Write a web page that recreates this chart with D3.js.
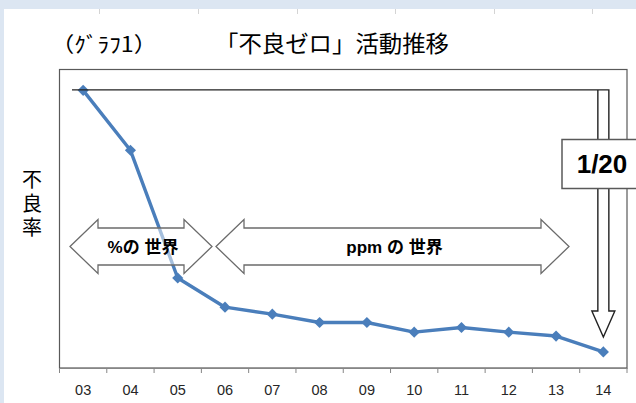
<!DOCTYPE html>
<html>
<head>
<meta charset="utf-8">
<script src="https://cdn.jsdelivr.net/npm/d3@7/dist/d3.min.js"></script>
<style>
  html, body { margin: 0; padding: 0; background: #dce6f2; }
  svg { display: block; }
</style>
</head>
<body>
<div id="chart"></div>
<script>
'use strict';
// chart data (index, 03 = 100)
var years   = ['03','04','05','06','07','08','09','10','11','12','13','14'];
var rates   = [100, 78.4, 32.4, 21.9, 19.4, 16.4, 16.4, 12.9, 14.6, 12.9, 11.5, 5.8];
var yMax    = 107.5;
var titleLeft  = '（ｸﾞﾗﾌ1）';
var titleMain  = '「不良ゼロ」活動推移';
var yLabel     = '不良率';
var arrowTexts = ['%の 世界', 'ppm の 世界'];
var ratioText  = '1/20';

var W = 636, H = 403,
    plot = { left: 59.5, right: 627, top: 69.5, bottom: 368 },
    jp = '"Noto Sans CJK JP", sans-serif',
    lat = '"Liberation Sans", "Noto Sans CJK JP", sans-serif',
    blue = '#4a7ebb';

var svg = d3.select('#chart').append('svg')
    .attr('width', W)
    .attr('height', H);

// sheet background
svg.append('rect').attr('x', 4).attr('y', 9)
    .attr('width', W - 4).attr('height', H - 9).attr('fill', '#fff');
[99, 198, 297, 395, 494, 592].forEach(function (gx) {
    svg.append('line').attr('x1', gx + 0.5).attr('x2', gx + 0.5)
        .attr('y1', 9).attr('y2', 14).attr('stroke', '#d4d4d4');
});

// titles
svg.append('text').attr('x', 51).attr('y', 52)
    .attr('font-family', jp).attr('font-size', 21).attr('fill', '#000')
    .attr('textLength', 106).attr('lengthAdjust', 'spacingAndGlyphs')
    .text(titleLeft);
svg.append('text').attr('x', 215).attr('y', 52)
    .attr('font-family', jp).attr('font-size', 23).attr('fill', '#000')
    .attr('textLength', 234).attr('lengthAdjust', 'spacingAndGlyphs')
    .text(titleMain);

// y label, vertical
svg.append('text')
    .attr('x', 32).attr('y', 169)
    .style('writing-mode', 'vertical-rl')
    .attr('letter-spacing', 4)
    .attr('font-family', jp).attr('font-size', 20).attr('fill', '#000')
    .text(yLabel);

var x = d3.scaleBand().domain(years).range([plot.left, plot.right]).padding(0),
    y = d3.scaleLinear().domain([0, yMax]).range([plot.bottom, plot.top]);

// plot frame
svg.append('rect')
    .attr('x', plot.left).attr('y', plot.top)
    .attr('width', plot.right - plot.left).attr('height', plot.bottom - plot.top)
    .attr('fill', 'none').attr('stroke', '#595959').attr('stroke-width', 1.2);

// x axis
var xAxis = svg.append('g')
    .attr('transform', 'translate(0,' + plot.bottom + ')')
    .call(d3.axisBottom(x).tickSize(0).tickPadding(0));
xAxis.select('.domain').attr('stroke', '#868686').attr('stroke-width', 1.2);
xAxis.selectAll('.tick text')
    .attr('y', 27).attr('dy', 0)
    .attr('font-family', lat).attr('font-size', 14.5).attr('fill', '#262626');
xAxis.selectAll('line.sep')
    .data(years.concat(['end'])).enter().append('line')
    .attr('class', 'sep')
    .attr('x1', function (d, i) { return plot.left + i * x.bandwidth(); })
    .attr('x2', function (d, i) { return plot.left + i * x.bandwidth(); })
    .attr('y1', 0).attr('y2', 5)
    .attr('stroke', '#868686');

// series line
var line = d3.line()
    .x(function (d, i) { return x(years[i]) + x.bandwidth() / 2; })
    .y(function (d) { return y(d); });
svg.append('path').datum(rates)
    .attr('d', line)
    .attr('fill', 'none').attr('stroke', blue)
    .attr('stroke-width', 3.4).attr('stroke-linejoin', 'round');
svg.selectAll('path.mk').data(rates).enter().append('path')
    .attr('class', 'mk')
    .attr('d', d3.symbol(d3.symbolSquare, 62))
    .attr('transform', function (d, i) {
        return 'translate(' + (x(years[i]) + x.bandwidth() / 2) + ',' + y(d) + ') rotate(45)';
    })
    .attr('fill', blue);

// double-headed arrows
function dblArrow(x1, x2, cy) {
    var hl = 28, hh = 27, sh = 18.5;
    return 'M' + x1 + ',' + cy +
        'L' + (x1 + hl) + ',' + (cy - hh) + 'V' + (cy - sh) +
        'H' + (x2 - hl) + 'V' + (cy - hh) +
        'L' + x2 + ',' + cy +
        'L' + (x2 - hl) + ',' + (cy + hh) + 'V' + (cy + sh) +
        'H' + (x1 + hl) + 'V' + (cy + hh) + 'Z';
}
var arrows = [
    { x1: 70, x2: 212, label: arrowTexts[0] },
    { x1: 216, x2: 569, label: arrowTexts[1] }
];
svg.selectAll('path.dbl').data(arrows).enter().append('path')
    .attr('class', 'dbl')
    .attr('d', function (d) { return dblArrow(d.x1, d.x2, 246.5); })
    .attr('fill', 'rgba(255,255,255,0.5)')
    .attr('stroke', '#6b6b6b').attr('stroke-width', 1.3);
svg.selectAll('text.dbl').data(arrows).enter().append('text')
    .attr('class', 'dbl')
    .attr('x', function (d) { return (d.x1 + d.x2) / 2 + 2; })
    .attr('y', 253)
    .attr('text-anchor', 'middle')
    .attr('font-family', lat).attr('font-size', 17).attr('font-weight', 'bold')
    .attr('fill', '#000')
    .text(function (d) { return d.label; });

// bent arrow from the first point down to the last
var ax = x(years[years.length - 1]) + x.bandwidth() / 2,
    ay0 = y(rates[0]) - 0.5;
svg.append('path')
    .attr('d', 'M72,' + ay0 + 'H' + (ax + 5.5) + 'V311H' + (ax + 11.5) +
        'L' + ax + ',337L' + (ax - 11.5) + ',311H' + (ax - 5.5) + 'V' + ay0)
    .attr('fill', 'none').attr('stroke', '#222').attr('stroke-width', 1.4);

// ratio box
svg.append('rect')
    .attr('x', 562).attr('y', 139.5).attr('width', 90).attr('height', 49)
    .attr('fill', '#fff').attr('stroke', '#595959').attr('stroke-width', 1.5);
svg.append('text')
    .attr('x', 602).attr('y', 173)
    .attr('text-anchor', 'middle')
    .attr('font-family', lat).attr('font-size', 26).attr('font-weight', 'bold')
    .attr('fill', '#000')
    .text(ratioText);
</script>
</body>
</html>
